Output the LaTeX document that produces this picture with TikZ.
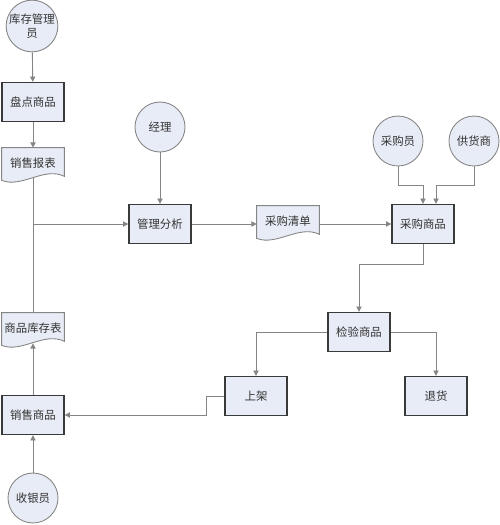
\documentclass[tikz,border=0pt]{standalone}
\usepackage{fontspec}
\newfontfamily\cjk{Noto Sans CJK SC}
\usetikzlibrary{arrows.meta, calc, backgrounds}
\definecolor{tianchong}{HTML}{E8ECF6}
\definecolor{biankuang}{HTML}{3A3A3A}
\definecolor{xian}{HTML}{858585}
\definecolor{zi}{HTML}{333333}
\tikzstyle{bk} = [rectangle, draw=biankuang, line width=0.8pt, fill=tianchong, text=zi, minimum width=1.24cm, minimum height=0.78cm, inner sep=0pt, font=\cjk\fontsize{6.5}{8}\selectfont]
\tikzstyle{yuan} = [circle, draw=xian, line width=0.5pt, fill=tianchong, text=zi, minimum size=1cm, inner sep=0pt, align=center, font=\cjk\fontsize{6.5}{8}\selectfont]
\tikzstyle{wd} = [rectangle, text=zi, minimum width=1.24cm, minimum height=0.6cm, inner sep=0pt, font=\cjk\fontsize{6.5}{8}\selectfont]
\tikzstyle{wdx} = [draw=xian, line width=0.5pt, fill=tianchong]
\tikzstyle{xx} = [draw=xian, line width=0.5pt]
\tikzstyle{jt} = [xx, -{Triangle[length=3pt,width=3pt]}]

\begin{document}
\begin{tikzpicture}[x=0.02cm, y=-0.02cm]
	\useasboundingbox (0,0) rectangle (500,525);
	% left column
	\node [yuan] (kcgly) at (32,26) {库存管理\\员};
	\node [bk] (pdsp) at (33,102) {盘点商品};
	\node [wd] (xsbb) at (33,163) {销售报表};
	\node [wd] (spkc) at (33,328) {商品库存表};
	\node [bk] (xssp) at (33,415) {销售商品};
	\node [yuan] (syy) at (33,498) {收银员};
	% middle and right
	\node [yuan] (jl) at (160,127) {经理};
	\node [bk] (glfx) at (160,224) {管理分析};
	\node [wd] (cgqd) at (288,221) {采购清单};
	\node [yuan] (cgy) at (398,141) {采购员};
	\node [yuan] (ghs) at (474,141) {供货商};
	\node [bk] (cgsp) at (423,224) {采购商品};
	\node [bk] (jysp) at (359,332) {检验商品};
	\node [bk] (sj) at (256,396) {上架};
	\node [bk] (th) at (436,396) {退货};
	% document shapes
	\begin{scope}[on background layer]
		\foreach \d in {xsbb, spkc, cgqd}
			\draw [wdx] (\d.north west) -- (\d.north east) -- ($(\d.south east)+(0,-2)$)
				.. controls +(-20,-10) and +(20,8) .. ($(\d.south west)+(0,2)$) -- cycle;
	\end{scope}
	% connectors
	\draw [jt] (kcgly) -- (pdsp);
	\draw [jt] (pdsp) -- (xsbb);
	\draw [xx] (xsbb.south) -- (spkc.north);
	\coordinate (fz) at (xsbb.south |- glfx.west);
	\draw [jt] (fz) -- (glfx.west);
	\draw [jt] (jl) -- (glfx);
	\draw [jt] (glfx.east) -- (glfx.east -| cgqd.west);
	\draw [jt] (cgqd.east |- cgsp.west) -- (cgsp.west);
	\draw [jt] (cgy.south) -- ++(0,19) -| (cgsp.north);
	\draw [jt] (ghs.south) -- ++(0,19) -| ($(cgsp.north)+(13,0)$);
	\draw [jt] (cgsp.south) -- ++(0,20) -| (jysp.north);
	\draw [jt] (jysp.west) -| (sj.north);
	\draw [jt] (jysp.east) -| (th.north);
	\draw [jt] (sj.west) -- ++(-18,0) |- (xssp.east);
	\draw [jt] (xssp) -- (spkc.south);
	\draw [jt] (syy) -- (xssp);
\end{tikzpicture}
\end{document}
